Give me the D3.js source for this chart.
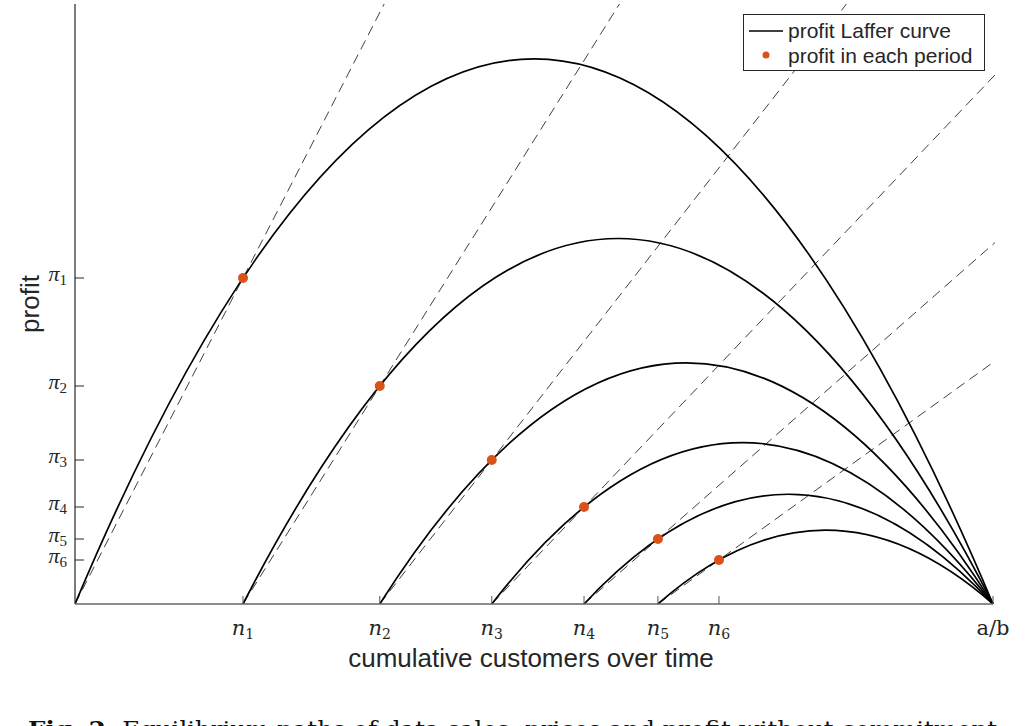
<!DOCTYPE html>
<html>
<head>
<meta charset="utf-8">
<script src="https://cdn.jsdelivr.net/npm/d3@7"></script>
<style>
  body { margin: 0; background: #fff; }
  svg { display: block; }
  .sans { font-family: "Liberation Sans", Arial, Helvetica, sans-serif; fill: #262626; }
  .serif { font-family: "DejaVu Serif", "Liberation Serif", serif; fill: #262626; }
  .times { font-family: "Liberation Serif", "DejaVu Serif", serif; fill: #262626; }
</style>
</head>
<body>
<svg id="chart" width="1029" height="726"></svg>
<script>
// cumulative customers at the end of each period (a/b = 1)
var periods = [1, 2, 3, 4, 5, 6];
var nVals = [0.183, 0.332, 0.454, 0.5545, 0.635, 0.7015];
// profit earned in each period
var piVals = [326, 218, 144, 97, 65, 44];
var abVal = 1;
var xTickLabels = ['n1', 'n2', 'n3', 'n4', 'n5', 'n6', 'a/b'];
var yTickLabels = ['π1', 'π2', 'π3', 'π4', 'π5', 'π6'];

var svg = d3.select('#chart');
var margin = { left: 75, top: 4, right: 36, bottom: 122 };
var W = 1029, H = 726;

var x = d3.scaleLinear().domain([0, abVal]).range([margin.left, 993]);
var y = d3.scaleLinear().domain([0, 600]).range([H - margin.bottom, margin.top]);

svg.append('defs').append('clipPath').attr('id', 'plotClip')
  .append('rect')
  .attr('x', margin.left).attr('y', margin.top)
  .attr('width', 995 - margin.left).attr('height', y(0) - margin.top);

var plot = svg.append('g').attr('clip-path', 'url(#plotClip)');

// each curve starts where the previous period ended
var starts = nVals.map(function(n, i) { return i === 0 ? 0 : nVals[i - 1]; });

// dashed rays from the start of each curve through the period's profit point
plot.selectAll('line.ray')
  .data(periods)
  .enter().append('line')
  .attr('class', 'ray')
  .attr('x1', function(d, i) { return x(starts[i]); })
  .attr('y1', y(0))
  .attr('x2', function(d, i) { return x(starts[i] + 10 * (nVals[i] - starts[i])); })
  .attr('y2', function(d, i) { return y(10 * piVals[i]); })
  .attr('stroke', '#2a2a2a')
  .attr('stroke-width', 0.9)
  .attr('stroke-dasharray', '10,6');

// Laffer curves: parabola through (start,0), (n,pi), (a/b,0), drawn as an exact quadratic bezier
plot.selectAll('path.laffer')
  .data(periods)
  .enter().append('path')
  .attr('class', 'laffer')
  .attr('d', function(d, i) {
    var s = starts[i], n = nVals[i], p = piVals[i];
    var c = p / ((n - s) * (abVal - n));
    var peak = c * (abVal - s) * (abVal - s) / 4;
    var path = d3.path();
    path.moveTo(x(s), y(0));
    path.quadraticCurveTo(x((s + abVal) / 2), y(2 * peak), x(abVal), y(0));
    return path.toString();
  })
  .attr('fill', 'none')
  .attr('stroke', '#000')
  .attr('stroke-width', 1.7);

// axes
var axes = svg.append('g');
axes.append('line')
  .attr('x1', margin.left).attr('x2', margin.left)
  .attr('y1', margin.top).attr('y2', y(0))
  .attr('stroke', '#262626').attr('stroke-width', 1.2);
axes.append('line')
  .attr('x1', margin.left).attr('x2', x(abVal))
  .attr('y1', y(0)).attr('y2', y(0))
  .attr('stroke', '#666').attr('stroke-width', 1.5);

var xTickVals = nVals.concat([abVal]);
axes.selectAll('line.xtick')
  .data(xTickVals)
  .enter().append('line')
  .attr('x1', function(d) { return x(d); }).attr('x2', function(d) { return x(d); })
  .attr('y1', y(0)).attr('y2', y(0) - 8)
  .attr('stroke', '#555').attr('stroke-width', 1);

axes.selectAll('line.ytick')
  .data(piVals)
  .enter().append('line')
  .attr('x1', margin.left).attr('x2', margin.left + 9)
  .attr('y1', function(d) { return y(d); }).attr('y2', function(d) { return y(d); })
  .attr('stroke', '#262626').attr('stroke-width', 1);

// x tick labels
var xl = axes.selectAll('text.xlab')
  .data(xTickVals)
  .enter().append('text')
  .attr('class', 'serif')
  .attr('x', function(d) { return x(d); })
  .attr('y', y(0) + 31)
  .attr('text-anchor', 'middle')
  .style('font-size', '21px');
xl.each(function(d, i) {
  var t = d3.select(this), lab = xTickLabels[i];
  if (lab === 'a/b') {
    t.text(lab);
  } else {
    t.append('tspan').style('font-style', 'italic').text(lab.charAt(0));
    t.append('tspan').attr('dy', 4).style('font-size', '14px').text(lab.slice(1));
  }
});

// y tick labels
var yl = axes.selectAll('text.ylab')
  .data(piVals)
  .enter().append('text')
  .attr('class', 'times')
  .attr('x', margin.left - 8)
  .attr('y', function(d) { return y(d) + 3; })
  .attr('text-anchor', 'end')
  .style('font-size', '22px');
yl.each(function(d, i) {
  var t = d3.select(this), lab = yTickLabels[i];
  t.append('tspan').style('font-style', 'italic').text(lab.charAt(0));
  t.append('tspan').attr('dy', 4).style('font-size', '15px').text(lab.slice(1));
});

// profit dots
svg.selectAll('circle.dot')
  .data(periods)
  .enter().append('circle')
  .attr('class', 'dot')
  .attr('cx', function(d, i) { return x(nVals[i]); })
  .attr('cy', function(d, i) { return y(piVals[i]); })
  .attr('r', 5)
  .attr('fill', '#D95319');

// axis titles
svg.append('text').attr('class', 'sans')
  .attr('x', 531).attr('y', 667)
  .attr('text-anchor', 'middle')
  .style('font-size', '26px')
  .text('cumulative customers over time');

svg.append('text').attr('class', 'sans')
  .attr('transform', 'translate(39,304) rotate(-90)')
  .attr('text-anchor', 'middle')
  .style('font-size', '26px')
  .text('profit');

// legend
var lg = svg.append('g');
lg.append('rect')
  .attr('x', 743.5).attr('y', 14.5).attr('width', 241).attr('height', 56)
  .attr('fill', '#fff').attr('stroke', '#262626').attr('stroke-width', 1);
lg.append('line')
  .attr('x1', 749).attr('x2', 783).attr('y1', 31).attr('y2', 31)
  .attr('stroke', '#000').attr('stroke-width', 1.7);
lg.append('circle').attr('cx', 766).attr('cy', 55).attr('r', 3.5).attr('fill', '#D95319');
lg.append('text').attr('class', 'sans').attr('x', 788).attr('y', 38)
  .style('font-size', '21px').text('profit Laffer curve');
lg.append('text').attr('class', 'sans').attr('x', 788).attr('y', 63)
  .style('font-size', '21px').text('profit in each period');

// caption, cut off at the bottom edge
var cap = svg.append('text')
  .attr('x', 28).attr('y', 737)
  .style('font-family', '"DejaVu Serif", "Liberation Serif", serif')
  .style('font-size', '22px')
  .style('fill', '#111')
  .attr('textLength', 977)
  .attr('lengthAdjust', 'spacingAndGlyphs');
cap.append('tspan').style('font-weight', 'bold').text('Fig. 2.');
cap.append('tspan').text('  Equilibrium paths of data sales, prices and profit without commitment.');
</script>
</body>
</html>
